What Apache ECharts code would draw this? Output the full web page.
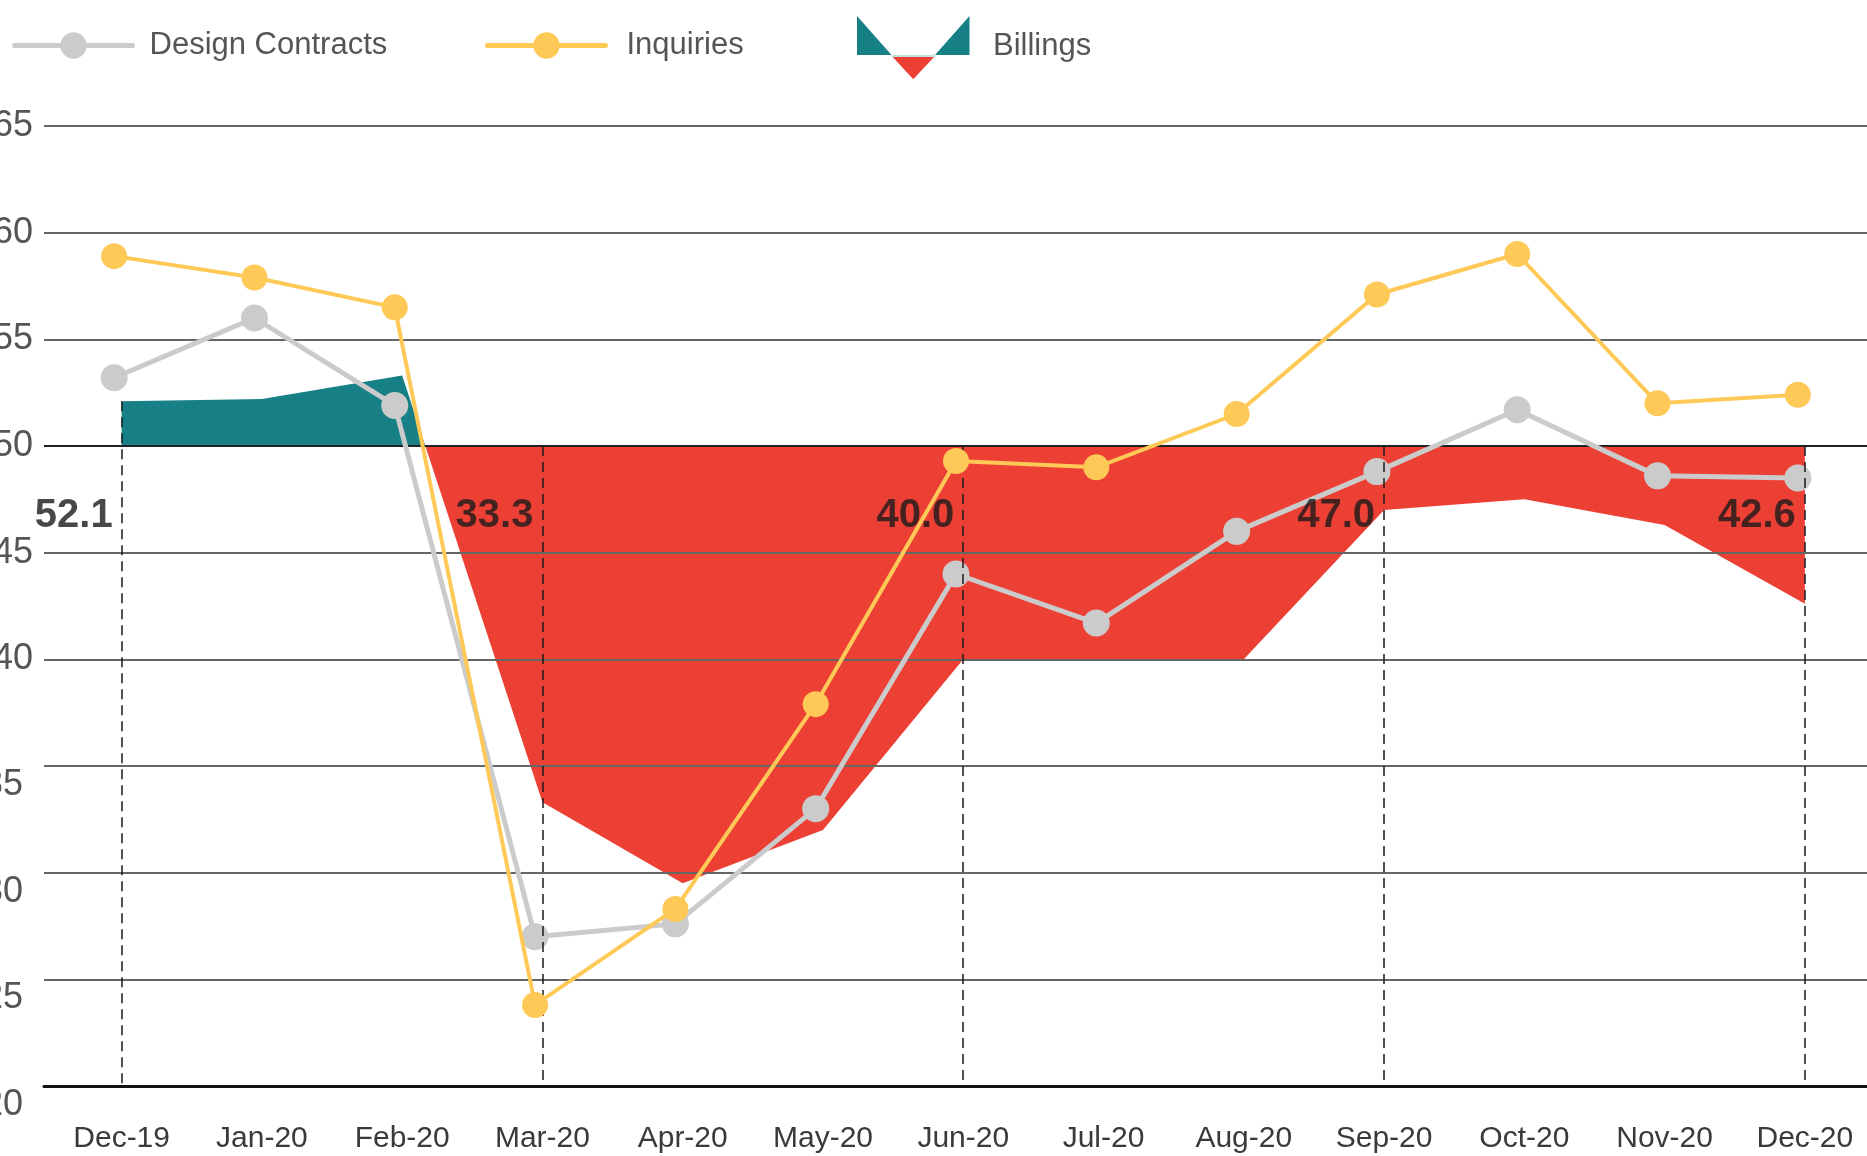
<!DOCTYPE html>
<html><head><meta charset="utf-8">
<script src="https://cdn.jsdelivr.net/npm/echarts@6/dist/echarts.min.js"></script>
<style>html,body{margin:0;padding:0;background:#fff}#c{width:1867px;height:1156px}</style>
</head><body><div id="c"></div>
<script>
// ---- data ----
const months = ['Dec-19','Jan-20','Feb-20','Mar-20','Apr-20','May-20','Jun-20','Jul-20','Aug-20','Sep-20','Oct-20','Nov-20','Dec-20'];
const designContracts = [53.2, 56.0, 51.9, 27.0, 27.6, 33.0, 44.0, 41.7, 46.0, 48.8, 51.7, 48.6, 48.5];
const inquiries = [58.9, 57.9, 56.5, 23.8, 28.3, 37.9, 49.3, 49.0, 51.5, 57.1, 59.0, 52.0, 52.4];
const billings = [52.1, 52.2, 53.3, 33.3, 29.5, 32.0, 40.0, 40.0, 40.0, 47.0, 47.5, 46.3, 42.6];
const labeledMonths = [0, 3, 6, 9, 12];
const yMin = 20, yMax = 65, yStep = 5;
const BASELINE = 50;
const LABEL_Y = 46.7;

// ---- styles ----
const FONT = 'Liberation Sans';
const TEAL = '#178087', RED = '#ED4035', GRAY = '#CBCBCB', YELLOW = '#FFC957';
const W = 1867, H = 1156;

const chart = echarts.init(document.getElementById('c'), null, {renderer: 'canvas', width: W, height: H});

const splitColors = [];
for (let v = yMin; v <= yMax; v += yStep) splitColors.push(v === BASELINE ? '#222' : '#666');

function legendCfg(name, left, top, w, h, pad, extra) {
  return Object.assign({
    left: left, top: top, itemWidth: w, itemHeight: h, itemGap: 0, padding: 0,
    data: [name],
    formatter: '{t|{name}}',
    textStyle: {rich: {t: {fontFamily: FONT, fontSize: 31, color: '#555', padding: pad}}},
    lineStyle: {width: 5, cap: 'round'}
  }, extra || {});
}

function areaFill(y50) {
  const o = Math.min(1, Math.max(0, y50 / H));
  return {type: 'linear', x: 0, y: 0, x2: 0, y2: H, global: true,
    colorStops: [{offset: 0, color: TEAL}, {offset: o, color: TEAL}, {offset: o, color: RED}, {offset: 1, color: RED}]};
}

const option = {
  backgroundColor: '#fff',
  animation: false,
  grid: [
    {left: 51.5, right: -8, top: 126, bottom: 70, outerBoundsMode: 'none', containLabel: false},
    {left: 44, right: -1, top: 126, bottom: 70, outerBoundsMode: 'none', containLabel: false}
  ],
  xAxis: [
    {gridIndex: 0, type: 'category', data: months, boundaryGap: true,
     axisLine: {show: false}, axisTick: {show: false}, splitLine: {show: false},
     axisLabel: {fontFamily: FONT, fontSize: 30, color: '#3a3a3a', margin: 38, interval: 0, hideOverlap: false}},
    {gridIndex: 1, type: 'category', data: months, boundaryGap: true, z: 3,
     axisLine: {show: true, lineStyle: {color: '#111', width: 3}}, axisTick: {show: false},
     axisLabel: {show: false}, splitLine: {show: false}}
  ],
  yAxis: [
    {gridIndex: 0, type: 'value', min: yMin, max: yMax, interval: yStep, show: false},
    {gridIndex: 1, type: 'value', min: yMin, max: yMax, interval: yStep, z: 3,
     axisLine: {show: false}, axisTick: {show: false},
     splitLine: {show: true, lineStyle: {color: splitColors, width: 2}},
     axisLabel: {margin: 11,
       formatter: v => (v <= 35 ? '{lo|' + v + '}' : '{hi|' + v + '}'),
       rich: {
         hi: {fontFamily: FONT, fontSize: 36, color: '#555'},
         lo: {fontFamily: FONT, fontSize: 36, color: '#555', padding: [38, 10, 0, 0]}
       }}}
  ],
  legend: [
    legendCfg('Design Contracts', 12, 30, 118, 33, [0, 0, 0, 12]),
    legendCfg('Inquiries', 485, 30, 118, 33, [0, 0, 0, 16]),
    legendCfg('Billings', 857, 21, 112, 63, [0, 0, 12, 19], {icon: 'rect', itemStyle: {opacity: 0}})
  ],
  graphic: [
    {type: 'polygon', z: 100, shape: {points: [[857, 16], [857, 55], [891.5, 55]]}, style: {fill: TEAL}},
    {type: 'polygon', z: 100, shape: {points: [[969.5, 16], [969.5, 55], [935, 55]]}, style: {fill: TEAL}},
    {type: 'rect', z: 100, shape: {x: 891.5, y: 55, width: 43.5, height: 2}, style: {fill: '#bfe0e0'}},
    {type: 'polygon', z: 100, shape: {points: [[892.7, 57], [934, 57], [913.3, 79.3]]}, style: {fill: RED}}
  ],
  series: [
    {name: 'Billings', type: 'line', xAxisIndex: 0, yAxisIndex: 0, z: 2,
     data: billings, symbol: 'none', lineStyle: {width: 0}, itemStyle: {color: TEAL},
     areaStyle: {origin: BASELINE, opacity: 1, color: TEAL}},
    {name: 'labels', type: 'scatter', xAxisIndex: 0, yAxisIndex: 0, z: 6,
     data: labeledMonths.map(i => [i, LABEL_Y]), symbolSize: 0, silent: true,
     label: {show: true, position: 'left', distance: 9,
       formatter: p => billings[p.data[0]].toFixed(1),
       fontFamily: FONT, fontSize: 40, fontWeight: 'bold', color: '#1a1a1a'},
     markLine: {silent: true, symbol: 'none', label: {show: false},
       lineStyle: {color: '#1a1a1a', width: 1.5, type: [10, 6]},
       data: labeledMonths.map(i => [{coord: [i, Math.max(billings[i], BASELINE)]}, {coord: [i, yMin]}])}},
    {name: 'Design Contracts', type: 'line', xAxisIndex: 1, yAxisIndex: 1, z: 4,
     data: designContracts, symbol: 'circle', symbolSize: 27,
     lineStyle: {color: GRAY, width: 5}, itemStyle: {color: GRAY}},
    {name: 'Inquiries', type: 'line', xAxisIndex: 1, yAxisIndex: 1, z: 5,
     data: inquiries, symbol: 'circle', symbolSize: 26,
     lineStyle: {color: YELLOW, width: 4}, itemStyle: {color: YELLOW}}
  ]
};
chart.setOption(option);
// colour the billings area teal above the 50 baseline and red below, using the axis scale
const y50 = chart.convertToPixel({yAxisIndex: 0}, BASELINE);
chart.setOption({series: [{name: 'Billings', areaStyle: {color: areaFill(y50)}}]});
</script></body></html>
